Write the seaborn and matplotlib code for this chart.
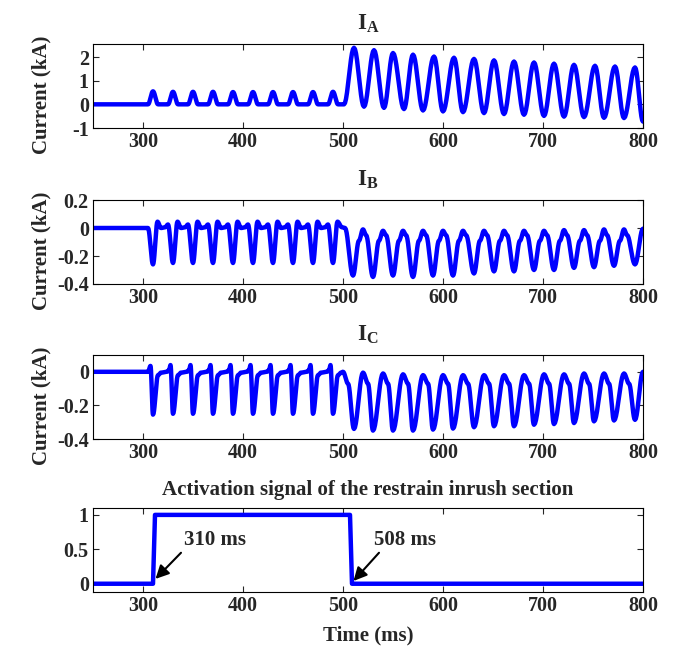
import numpy as np
import pandas as pd
import matplotlib
matplotlib.use("Agg")
import matplotlib.pyplot as plt
import seaborn as sns

# ---------------- data ----------------
# I_A : small magnetising pulses then inrush oscillation
A_pulse_t = [310, 330, 350, 370, 390, 410, 430, 450, 470, 490]
A_pulse_v = [0.55, 0.53, 0.53, 0.53, 0.52, 0.52, 0.52, 0.52, 0.52, 0.53]
A_peak_t = [511, 531, 550, 570, 591, 611, 631, 651, 671, 691, 711, 731, 752, 772, 792]
A_peak_v = [2.39, 2.29, 2.17, 2.10, 2.02, 1.97, 1.92, 1.86, 1.81, 1.77, 1.72, 1.67, 1.63, 1.60, 1.56]
A_trough_t = [521, 541, 561, 580, 600, 620, 641, 661, 681, 701, 721, 741, 761, 781]
A_trough_v = [-0.10, -0.15, -0.20, -0.26, -0.30, -0.33, -0.37, -0.41, -0.44, -0.49, -0.52, -0.54, -0.57, -0.58]
A_end = -0.73

# I_B
B_dip_t = [310, 330, 350, 370, 390, 410, 430, 450, 470, 490]
B_dip_v = [-0.26, -0.25, -0.25, -0.25, -0.25, -0.25, -0.25, -0.25, -0.25, -0.25]
B_trough_t = [510, 530, 550, 570, 590, 610, 631, 651, 671, 691, 711, 731, 751, 771, 792]
B_trough_v = [-0.34, -0.35, -0.34, -0.35, -0.34, -0.34, -0.325, -0.31, -0.31, -0.30, -0.30, -0.285, -0.28, -0.27, -0.26]
B_peak_t = [520, 540, 560, 580, 600, 620, 641, 661, 681, 701, 721, 741, 761, 781]
B_peak_v = [-0.01, -0.02, -0.02, -0.02, -0.02, -0.02, -0.02, -0.02, -0.02, -0.02, -0.015, -0.015, -0.01, -0.01]
B_end = -0.005

# I_C
C_dip_t = [310, 330, 350, 370, 390, 410, 430, 450, 470, 490]
C_dip_v = [-0.255, -0.25, -0.25, -0.25, -0.25, -0.25, -0.25, -0.25, -0.25, -0.25]
C_peak_t = [500, 520, 540, 560, 580, 600, 620, 641, 661, 681, 701, 721, 741, 761, 781]
C_peak_v = [0.0, -0.005, -0.01, -0.015, -0.02, -0.02, -0.02, -0.02, -0.02, -0.02, -0.015, -0.015, -0.01, -0.01, -0.01]
C_trough_t = [511, 530, 550, 570, 590, 610, 631, 651, 671, 691, 711, 731, 751, 771, 792]
C_trough_v = [-0.34, -0.35, -0.35, -0.35, -0.344, -0.338, -0.33, -0.324, -0.324, -0.315, -0.311, -0.305, -0.295, -0.29, -0.286]
C_end = 0.0

# activation signal
D_t = [250, 310, 312, 507, 509, 800]
D_v = [0, 0, 1, 1, 0, 0]

titles = ["$\\mathbf{I}_\\mathbf{A}$", "$\\mathbf{I}_\\mathbf{B}$", "$\\mathbf{I}_\\mathbf{C}$",
          "Activation signal of the restrain inrush section"]
xticks = [300, 400, 500, 600, 700, 800]
notes = ["310 ms", "508 ms"]
note_text_xy = [(372, 0.64), (562, 0.64)]
note_tail_xy = [(338, 0.45), (536, 0.45)]
note_head_xy = [(312.5, 0.07), (510.5, 0.04)]

# ---------------- keypoint paths ----------------
def path_A():
    p = [(250, 0.0)]
    for t, v in zip(A_pulse_t, A_pulse_v):
        p += [(t - 5, 0.0), (t, v), (t + 5, 0.0)]
    p += [(501, 0.0)]
    ext = sorted(list(zip(A_peak_t, A_peak_v)) + list(zip(A_trough_t, A_trough_v)))
    p += ext + [(800, A_end)]
    return p

def path_B():
    p = [(250, 0.0), (305, 0.0)]
    for i, (d, v) in enumerate(zip(B_dip_t, B_dip_v)):
        p += [(d, v), (d + 4.5, 0.045)]
        if i < len(B_dip_t) - 1:
            p += [(d + 8, 0.0), (d + 12, 0.005), (d + 15, 0.025)]
        else:
            p += [(d + 9, 0.005), (d + 12, 0.0)]
    for i, (t, v) in enumerate(zip(B_trough_t, B_trough_v)):
        p += [(t, v)]
        if i < len(B_peak_t):
            p += [(t + 6, -0.09), (B_peak_t[i], B_peak_v[i]), (B_peak_t[i] + 3, -0.05)]
    p += [(800, B_end)]
    return p

def path_C():
    p = [(250, 0.0), (305, 0.0), (307.5, 0.035)]
    for i, (d, v) in enumerate(zip(C_dip_t, C_dip_v)):
        p += [(d, v), (d + 5, -0.02), (d + 8, -0.005)]
        if i < len(C_dip_t) - 1:
            p += [(d + 14, 0.0), (d + 16, 0.01), (d + 17.5, 0.04)]
    for i, (t, v) in enumerate(zip(C_peak_t, C_peak_v)):
        p += [(t, v), (t + 5, -0.07), (C_trough_t[i], C_trough_v[i])]
    p += [(800, C_end)]
    return p

def render(points, n=10):
    tk = np.array([q[0] for q in points], float)
    vk = np.array([q[1] for q in points], float)
    ts, vs = [], []
    s = np.linspace(0, 1, n, endpoint=False)
    w = (1 - np.cos(np.pi * s)) / 2
    for i in range(len(tk) - 1):
        ts.extend(tk[i] + (tk[i + 1] - tk[i]) * s)
        vs.extend(vk[i] + (vk[i + 1] - vk[i]) * w)
    ts.append(tk[-1]); vs.append(vk[-1])
    return pd.DataFrame({"t": ts, "v": vs})

# ---------------- styling ----------------
sns.set_style("ticks")
plt.rcParams["font.family"] = ["Liberation Serif", "DejaVu Serif"]
plt.rcParams["font.weight"] = "bold"
plt.rcParams["mathtext.fontset"] = "custom"
plt.rcParams["mathtext.rm"] = "Liberation Serif"
plt.rcParams["mathtext.bf"] = "Liberation Serif:bold"
plt.rcParams["axes.linewidth"] = 0.8

fig = plt.figure(figsize=(6.77, 6.53), dpi=100)
W, H = 677.0, 653.0
boxes = [(44, 128), (200, 284), (355, 439), (508, 592)]
ylims = [(-1, 2.55), (-0.4, 0.2), (-0.4, 0.1), (-0.12, 1.1)]
yticks = [[-1, 0, 1, 2], [-0.4, -0.2, 0, 0.2], [-0.4, -0.2, 0], [0, 0.5, 1]]
yticklabels = [["-1", "0", "1", "2"], ["-0.4", "-0.2", "0", "0.2"], ["-0.4", "-0.2", "0"], ["0", "0.5", "1"]]
frames = [render(path_A()), render(path_B()), render(path_C()),
          pd.DataFrame({"t": D_t, "v": D_v})]

blue = "#0000FF"
axes = []
for k in range(4):
    top, bot = boxes[k]
    ax = fig.add_axes([93 / W, 1 - bot / H, 550 / W, (bot - top) / H])
    sns.lineplot(data=frames[k], x="t", y="v", ax=ax, color=blue, linewidth=3.2,
                 sort=False, estimator=None)
    ax.set_xlim(250, 800)
    ax.set_ylim(*ylims[k])
    ax.set_xticks(xticks)
    ax.set_xticklabels([str(x) for x in xticks], fontsize=14.5, fontweight="bold")
    ax.set_yticks(yticks[k])
    ax.set_yticklabels(yticklabels[k], fontsize=14.5, fontweight="bold")
    ax.tick_params(direction="in", length=4, width=0.8, top=True, right=True, pad=3)
    for sp in ax.spines.values():
        sp.set_visible(True)
        sp.set_color("black")
    ax.set_xlabel("")
    if k < 3:
        ax.set_ylabel("Current (kA)", fontsize=15, fontweight="bold")
        ax.yaxis.set_label_coords(-0.075, 0.4)
        ax.set_title(titles[k], fontsize=16.5, fontweight="bold", pad=11)
    else:
        ax.set_ylabel("")
        ax.set_title(titles[k], fontsize=15, fontweight="bold", pad=9)
        ax.set_xlabel("Time (ms)", fontsize=15, fontweight="bold", labelpad=7)
    axes.append(ax)

axD = axes[3]
for txt, txy, tail, head in zip(notes, note_text_xy, note_tail_xy, note_head_xy):
    axD.text(txy[0], txy[1], txt, fontsize=15, fontweight="bold", ha="center", va="center")
    axD.annotate("", xy=head, xytext=tail,
                 arrowprops=dict(arrowstyle="-|>", color="black", lw=1.5, mutation_scale=20,
                                 shrinkA=0, shrinkB=0))

fig.savefig("out.png", dpi=100)
